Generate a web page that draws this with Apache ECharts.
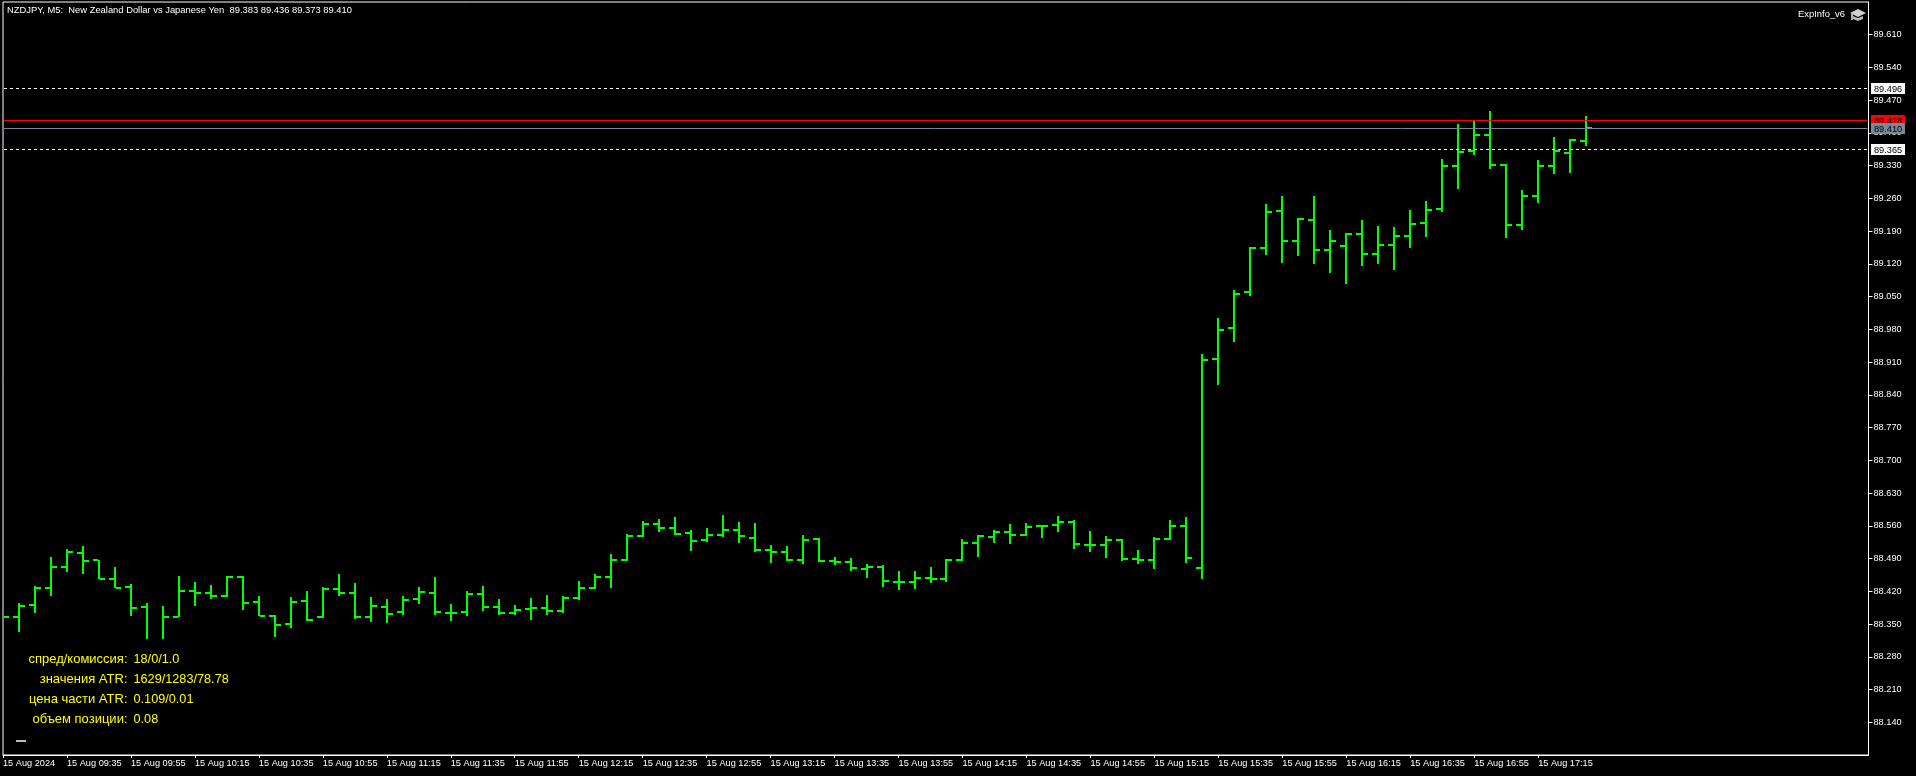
<!DOCTYPE html>
<html>
<head>
<meta charset="utf-8">
<style>html,body{margin:0;padding:0;background:#000;overflow:hidden}#c{width:1916px;height:776px}</style>
<script src="https://cdn.jsdelivr.net/npm/echarts@6/dist/echarts.min.js"></script>
</head>
<body>
<div id="c"></div>
<script>
const opens = [88.366,88.366,88.391,88.426,88.473,88.501,88.486,88.447,88.430,88.386,
null,88.366,88.421,88.417,88.411,88.451,88.398,88.368,88.351,88.400,
88.364,88.424,88.417,88.366,88.387,88.376,88.404,88.417,88.374,88.376,
88.415,88.387,88.374,88.382,88.384,88.378,88.406,88.427,88.451,88.487,
88.538,88.564,88.556,88.545,88.530,88.541,88.551,88.534,88.509,88.504,
88.487,88.532,88.485,88.483,88.468,88.472,88.440,88.440,88.449,88.446,
88.487,88.523,88.536,88.547,88.541,88.560,88.562,88.568,88.519,88.519,
88.530,88.489,88.487,88.532,88.560,88.470,88.916,88.982,89.061,89.153,
89.234,89.168,89.213,89.150,89.159,89.183,89.142,89.161,89.180,89.208,
89.238,89.330,89.362,89.396,89.332,89.204,89.266,89.330,89.358,89.383];
const highs = [88.366,88.396,88.431,88.493,88.510,88.516,88.488,88.471,88.435,88.396,
88.388,88.452,88.440,88.433,88.453,88.452,88.409,88.370,88.407,88.420,
88.429,88.458,88.437,88.407,88.403,88.410,88.429,88.451,88.393,88.421,
88.431,88.404,88.391,88.406,88.412,88.410,88.442,88.457,88.500,88.543,
88.571,88.575,88.579,88.551,88.556,88.583,88.568,88.566,88.519,88.517,
88.541,88.534,88.494,88.491,88.479,88.476,88.464,88.464,88.472,88.489,
88.532,88.541,88.551,88.564,88.566,88.562,88.581,88.573,88.549,88.538,
88.532,88.509,88.536,88.573,88.579,88.928,89.005,89.065,89.157,89.249,
89.266,89.219,89.266,89.193,89.187,89.213,89.202,89.198,89.236,89.255,
89.345,89.420,89.426,89.446,89.334,89.277,89.343,89.392,89.388,89.436];
const lows = [88.366,88.334,88.374,88.411,88.462,88.458,88.446,88.426,88.368,88.317,
88.317,88.364,88.389,88.404,88.408,88.379,88.367,88.323,88.342,88.356,
88.362,88.409,88.360,88.355,88.353,88.369,88.393,88.369,88.357,88.367,
88.378,88.369,88.369,88.359,88.369,88.374,88.401,88.425,88.427,88.485,
88.536,88.547,88.541,88.506,88.526,88.536,88.523,88.504,88.481,88.485,
88.479,88.483,88.476,88.464,88.449,88.429,88.423,88.425,88.438,88.440,
88.485,88.494,88.523,88.521,88.538,88.534,88.547,88.511,88.504,88.491,
88.485,88.479,88.468,88.530,88.481,88.447,88.862,88.954,89.051,89.138,
89.123,89.136,89.119,89.100,89.078,89.115,89.119,89.108,89.153,89.177,
89.232,89.280,89.352,89.322,89.175,89.192,89.250,89.312,89.314,89.373];
const closes = [88.366,88.389,88.426,88.473,88.503,88.484,88.447,88.428,88.385,null,
88.366,88.421,88.417,88.410,88.451,88.395,88.368,88.349,88.398,88.359,
88.424,88.417,88.366,88.389,88.372,88.402,88.419,88.376,88.374,88.415,
88.387,88.374,88.380,88.384,88.378,88.406,88.427,88.451,88.487,88.538,
88.564,88.556,88.543,88.528,88.541,88.551,88.538,88.509,88.504,88.487,
88.530,88.485,88.483,88.470,88.472,88.442,88.440,88.449,88.446,88.487,
88.523,88.538,88.547,88.541,88.558,88.560,88.568,88.521,88.519,88.530,
88.489,88.487,88.532,88.560,88.491,88.914,88.978,89.056,89.155,89.232,
89.168,89.215,89.150,89.170,89.185,89.142,89.161,89.180,89.206,89.236,
89.330,89.360,89.396,89.332,89.204,89.266,89.330,89.362,89.384,89.410];
const timeTicks = ['15 Aug 2024','15 Aug 09:35','15 Aug 09:55','15 Aug 10:15','15 Aug 10:35','15 Aug 10:55',
'15 Aug 11:15','15 Aug 11:35','15 Aug 11:55','15 Aug 12:15','15 Aug 12:35','15 Aug 12:55','15 Aug 13:15',
'15 Aug 13:35','15 Aug 13:55','15 Aug 14:15','15 Aug 14:35','15 Aug 14:55','15 Aug 15:15','15 Aug 15:35',
'15 Aug 15:55','15 Aug 16:15','15 Aug 16:35','15 Aug 16:55','15 Aug 17:15'];
const priceTicks = [88.14,88.21,88.28,88.35,88.42,88.49,88.56,88.63,88.70,88.77,88.84,88.91,88.98,89.05,89.12,89.19,89.26,89.33,89.40,89.47,89.54,89.61];
const levelValues = [89.496,89.365,89.428,89.410];
const levelColors = ['#ffffff','#ffffff','#ff0000','#778899'];
const infoLabels = ['спред/комиссия:','значения ATR:','цена части ATR:','объем позиции:'];
const infoValues = ['18/0/1.0','1629/1283/78.78','0.109/0.01','0.08'];
const headerText = 'NZDJPY, M5:  New Zealand Dollar vs Japanese Yen  89.383 89.436 89.373 89.410';
const barsPerTimeTick = 4;

const FONT = '"Liberation Sans"';
const GREEN = '#00ff00';
const bars = opens.map((o, i) => [i, o, highs[i], lows[i], closes[i]]);

function renderBar(params, api) {
  const i = api.value(0);
  const cx = Math.round(api.coord([i, 88.5])[0]);
  const yOf = v => Math.round(api.coord([i, v])[1]);
  const kids = [];
  const rect = (x, y, w, h) => kids.push({type: 'rect', shape: {x, y, width: w, height: h}, style: {fill: GREEN}});
  const o = opens[i], c = closes[i];
  if (i > 0) {
    const t = yOf(highs[i]), b = yOf(lows[i]);
    rect(cx - 1, t, 2, Math.max(b - t, 1));
    if (o !== null) rect(cx - 6, yOf(o) - 1, 5, 2);
  }
  if (c !== null) rect(cx + 1, yOf(c) - 1, 5, 2);
  return {type: 'group', children: kids};
}

function renderLevel(params, api) {
  const idx = api.value(2);
  const v = levelValues[idx];
  const color = levelColors[idx];
  const cs = params.coordSys;
  const y = Math.round(api.coord([0, v])[1]);
  const right = cs.x + cs.width;
  const boxX = Math.round(right) + 2;
  return {type: 'group', children: [
    {type: 'line', shape: {x1: cs.x + 1, y1: y + 0.5, x2: right - 1, y2: y + 0.5},
      style: {stroke: color, lineWidth: 1, lineDash: idx < 2 ? [3, 3] : null}},
    {type: 'rect', shape: {x: boxX, y: y - 5, width: 34, height: 11}, style: {fill: color}},
    {type: 'text', style: {text: v.toFixed(3), x: boxX + 3, y: y + 1, fill: '#000000', font: '9.2px ' + FONT, textAlign: 'left', textVerticalAlign: 'middle'}}
  ]};
}

const chart = echarts.init(document.getElementById('c'), null, {renderer: 'canvas'});
const txt = (text, x, y, align, color, size) => ({
  type: 'text', x, y, silent: true,
  style: {text, fill: color, font: size + 'px ' + FONT, textAlign: align, textVerticalAlign: 'middle'}
});
const graphics = [txt(headerText, 7, 10, 'left', '#ffffff', 9.4),
  txt('ExpInfo_v6', 1845, 14, 'right', '#ffffff', 9.4),
  {type: 'polygon', silent: true, shape: {points: [[1850, 13], [1858, 9], [1866, 13], [1858, 17]]}, style: {fill: '#d0d0d0'}},
  {type: 'polygon', silent: true, shape: {points: [[1853, 16], [1858, 18], [1863, 16], [1863, 19], [1858, 21], [1853, 19]]}, style: {fill: '#b8b8b8'}},
  {type: 'rect', silent: true, shape: {x: 1851, y: 14, width: 2, height: 6}, style: {fill: '#b0b0b0'}},
  {type: 'rect', silent: true, shape: {x: 16, y: 740, width: 10, height: 2}, style: {fill: '#bbbbbb'}}];
infoLabels.forEach((l, i) => {
  graphics.push(txt(l, 127.5, 659 + i * 20, 'right', '#ffff00', 13));
  graphics.push(txt(infoValues[i], 133.5, 659 + i * 20, 'left', '#ffff00', 12.7));
});

chart.setOption({
  animation: false,
  backgroundColor: '#000000',
  textStyle: {fontFamily: FONT},
  grid: {left: 2, top: 2, width: 1866.5, height: 753, show: true, borderColor: '#ffffff', borderWidth: 1, backgroundColor: '#000000'},
  xAxis: {
    type: 'value', min: 0, max: 1866.5 / 16, splitLine: {show: false},
    axisLine: {show: true, onZero: false, lineStyle: {color: '#ffffff', width: 1}},
    axisTick: {show: true, length: 3, lineStyle: {color: '#ffffff'}, customValues: timeTicks.map((_, i) => i * barsPerTimeTick)},
    axisLabel: {
      color: '#ffffff', fontSize: 9.2, fontFamily: FONT, align: 'left', margin: 4, showMinLabel: true, showMaxLabel: true, hideOverlap: false,
      customValues: timeTicks.map((_, i) => i * barsPerTimeTick),
      formatter: v => timeTicks[Math.round(v / barsPerTimeTick)] || ''
    }
  },
  yAxis: {
    type: 'value', position: 'right', min: 88.07, max: 89.68, scale: true, splitLine: {show: false},
    axisLine: {show: true, onZero: false, lineStyle: {color: '#ffffff', width: 1}},
    axisTick: {show: true, length: 4, lineStyle: {color: '#ffffff'}, customValues: priceTicks},
    axisLabel: {color: '#ffffff', fontSize: 9.2, fontFamily: FONT, margin: 5, padding: [2, 0, 0, 0], customValues: priceTicks, formatter: v => v.toFixed(3)}
  },
  graphic: {elements: graphics},
  series: [
    {type: 'custom', name: 'NZDJPY', renderItem: renderBar, data: bars, clip: true, silent: true, z: 3, encode: {x: 0, y: [1, 2, 3, 4]}},
    {type: 'custom', name: 'levels', renderItem: renderLevel, data: levelValues.map((v, i) => [0, v, i]), clip: false, silent: true, z: 4, encode: {x: 0, y: 1}}
  ]
});
</script>
</body>
</html>
